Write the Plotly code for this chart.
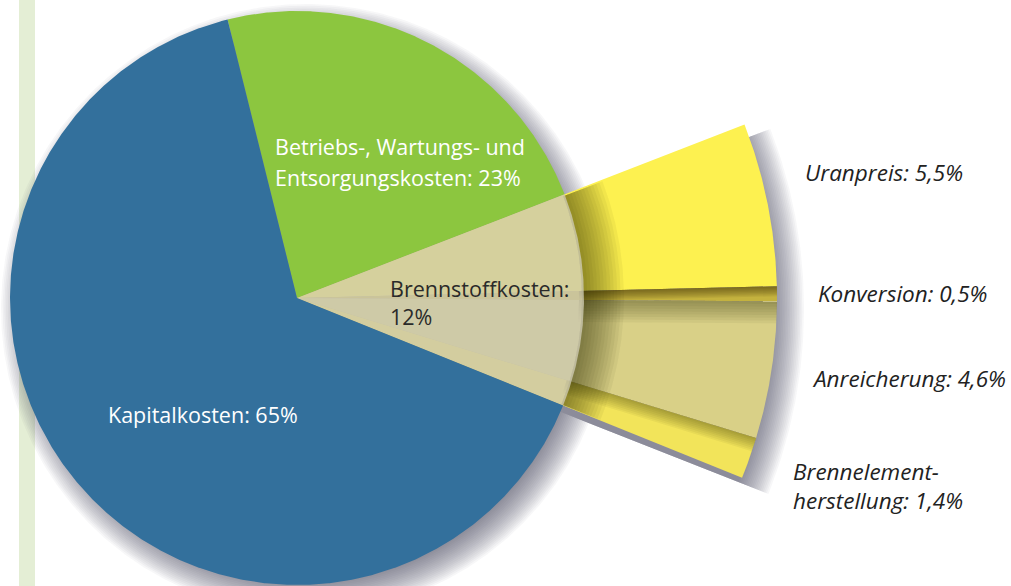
import numpy as np
import plotly.graph_objects as go

# ---------------- data ----------------
main_labels = ["Betriebs-, Wartungs- und Entsorgungskosten", "Brennstoffkosten", "Kapitalkosten"]
main_values = [23, 12, 65]            # % of total generating cost
fuel_labels = ["Uranpreis", "Konversion", "Anreicherung", "Brennelementherstellung"]
fuel_values = [5.5, 0.5, 4.6, 1.4]    # % of total (sum = Brennstoffkosten)

main_text = [["Betriebs-, Wartungs- und", "Entsorgungskosten: 23%"],
             ["Brennstoffkosten:", "12%"],
             ["Kapitalkosten: 65%"]]
fuel_text = [["Uranpreis: 5,5%"], ["Konversion: 0,5%"], ["Anreicherung: 4,6%"],
             ["Brennelement-", "herstellung: 1,4%"]]

# ---------------- style ----------------
main_colors = ["#8cc63f", "rgba(204,200,174,0.82)", "#33709c"]
fuel_colors = ["#fdf150", "#c4b23e", "#d9d087", "#f2e45a"]
main_font_colors = ["white", "#2a2a2a", "white"]

W, H = 1011, 586
CX, CY = 297, 298          # pie centre (px)
R = 287                    # main pie radius
R_OUT = 480                # radius of exploded fuel-cost breakdown
START = -14.0              # degrees clockwise from 12 o'clock
DEG_PER_PCT = 3.6

main_pos = {0: [(273, 146), (273, 177)], 1: [(388, 288), (388, 316)], 2: [(106, 414)]}
fuel_pos = {0: [(803, 172)], 1: [(816, 293)], 2: [(810, 378)], 3: [(791, 471), (791, 500)]}


def pt(r, a):
    t = np.radians(a)
    return CX + r * np.sin(t), CY - r * np.cos(t)


def wedge(r0, r1, a0, a1, step=0.5):
    n = max(2, int(abs(a1 - a0) / step) + 1)
    angs = np.linspace(a0, a1, n)
    xo, yo = pt(r1, angs)
    if r0 <= 0:
        xi, yi = np.array([CX]), np.array([CY])
    else:
        xi, yi = pt(r0, angs[::-1])
    xs = np.concatenate([xo, xi, xo[:1]])
    ys = np.concatenate([yo, yi, yo[:1]])
    return xs, ys


def poly(fig, xs, ys, color):
    fig.add_trace(go.Scatter(x=xs, y=ys, mode="lines", fill="toself", fillcolor=color,
                             line=dict(width=0), hoverinfo="skip", showlegend=False))


# angles
main_b = START + np.concatenate([[0], np.cumsum(main_values)]) * DEG_PER_PCT
fuel_idx = 1
fa0 = main_b[fuel_idx]
fuel_b = fa0 + np.concatenate([[0], np.cumsum(fuel_values)]) * DEG_PER_PCT
fa1 = fuel_b[-1]

fig = go.Figure()

# ---- soft drop shadow of the whole shape ----
def outline(extra, dx, dy):
    angs = np.arange(fa1, fa0 + 360 + 0.01, 0.5)
    xs, ys = pt(R + extra, angs)
    ang2 = np.arange(fa0, fa1 + 0.01, 0.5)
    x2, y2 = pt(R_OUT + extra, ang2)
    xs = np.concatenate([xs, x2, xs[:1]]) + dx
    ys = np.concatenate([ys, y2, ys[:1]]) + dy
    return xs, ys

N_SH = 20
for k in range(N_SH):
    s = 34 * (k + 1) / N_SH - 16
    xs, ys = outline(s, 9, 11)
    poly(fig, xs, ys, "rgba(70,68,85,0.045)")

# ---- exploded fuel breakdown ----
for i, v in enumerate(fuel_values):
    xs, ys = wedge(0, R_OUT, fuel_b[i], fuel_b[i + 1], 0.2)
    poly(fig, xs, ys, fuel_colors[i])

# shadows cast by each sub-slice on the next one (clockwise side of boundaries)
def boundary_band(ab, w):
    rr = np.linspace(R - 5, R_OUT, 60)
    a_off = ab + np.degrees(w / rr)
    x1, y1 = pt(rr, np.full_like(rr, ab))
    x2, y2 = pt(rr[::-1], a_off[::-1])
    return np.concatenate([x1, x2, x1[:1]]), np.concatenate([y1, y2, y1[:1]])

for bi, (wmax, op) in zip([1, 2, 3], [(10, 0.07), (22, 0.05), (14, 0.05)]):
    ab = fuel_b[bi]
    for k in range(8):
        w = wmax * (k + 1) / 8
        xs, ys = boundary_band(ab, w)
        poly(fig, xs, ys, f"rgba(40,35,0,{op})")

# inner shadow cast by the main pie onto the breakdown
for k in range(12):
    w = 40 * (k + 1) / 12
    xs, ys = wedge(R - 2, R + w, fa0 + 0.3, fa1 - 0.1, 0.2)
    poly(fig, xs, ys, "rgba(40,35,0,0.05)")

# ---- main pie ----
for i, v in enumerate(main_values):
    xs, ys = wedge(0, R, main_b[i], main_b[i + 1], 0.25)
    poly(fig, xs, ys, main_colors[i])

# ---- labels ----
FONT = "Open Sans, Noto Sans, sans-serif"
for i, lines in enumerate(main_text):
    for (x, y), t in zip(main_pos[i], lines):
        fig.add_annotation(x=x, y=y, text=t, showarrow=False, xanchor="left", yanchor="middle",
                           font=dict(family=FONT, size=21.5, color=main_font_colors[i]))
for i, lines in enumerate(fuel_text):
    for (x, y), t in zip(fuel_pos[i], lines):
        fig.add_annotation(x=x, y=y, text=f"<i>{t}</i>", showarrow=False, xanchor="left",
                           yanchor="middle", font=dict(family=FONT, size=22.5, color="#222222"))

fig.update_layout(
    width=W, height=H, margin=dict(l=0, r=0, t=0, b=0),
    paper_bgcolor="white", plot_bgcolor="white", showlegend=False,
    xaxis=dict(range=[0, W], visible=False, fixedrange=True),
    yaxis=dict(range=[H, 0], visible=False, fixedrange=True),
    shapes=[dict(type="rect", xref="paper", yref="paper", x0=19 / W, x1=35 / W, y0=0, y1=1,
                 fillcolor="#e4eed5", line=dict(width=0), layer="below")],
)

fig.write_html("out.html", config={"displayModeBar": False},
               post_script="document.body.style.margin='0px';document.body.style.overflow='hidden';")
